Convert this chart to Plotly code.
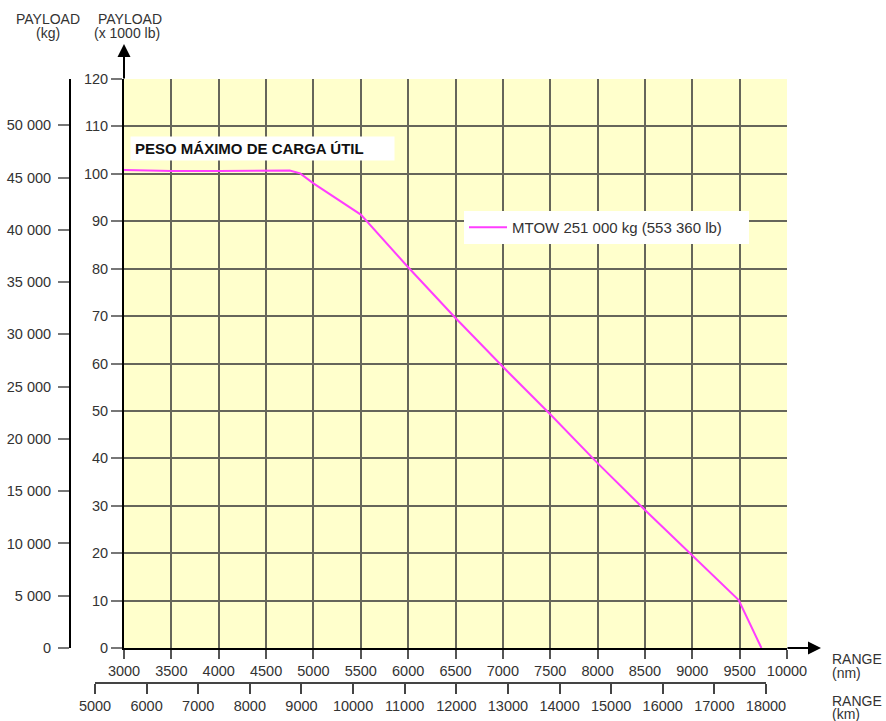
import plotly.graph_objects as go

# ---- data ----
range_nm = [3000, 3500, 4000, 4500, 4750, 4860, 5000, 5500, 6000, 6500, 7000, 7500, 8000, 8500, 9000, 9490, 9730]
payload_klb = [100.8, 100.6, 100.6, 100.7, 100.7, 100.1, 98.0, 91.4, 80.3, 69.6, 59.3, 49.3, 39.0, 29.1, 19.5, 10.1, 0.0]
series_name = "MTOW 251 000 kg (553 360 lb)"

nm_ticks = list(range(3000, 10001, 500))
nm_labels = [str(v) for v in nm_ticks]
km_ticks = list(range(5000, 18001, 1000))
km_labels = [str(v) for v in km_ticks]
klb_ticks = list(range(0, 121, 10))
klb_labels = [str(v) for v in klb_ticks]
kg_ticks = list(range(0, 50001, 5000))
kg_labels = ["0" if v == 0 else f"{v // 1000} 000" for v in kg_ticks]

# ---- geometry (page pixels; body margin is removed so the figure sits at 0,0) ----
W, H = 886, 721
L, R, T, B = 70, 787, 79, 683          # paper edges in page pixels


def px(x):
    return (x - L) / (R - L)


def py(y):
    return (B - y) / (B - T)


FONT = "Liberation Sans, Arial, Helvetica, sans-serif"
TXT = "#333333"
GRID = "#66665a"

fig = go.Figure()
fig.add_trace(go.Scatter(x=range_nm, y=payload_klb, mode="lines", name=series_name,
                         line=dict(color="#FF3DFF", width=2), xaxis="x", yaxis="y"))
# helper traces so that the secondary (km / kg) axes get drawn
fig.add_trace(go.Scatter(x=km_ticks, y=[None] * len(km_ticks), xaxis="x2", yaxis="y3",
                         showlegend=False, hoverinfo="skip", mode="markers"))
fig.add_trace(go.Scatter(x=[None] * len(kg_ticks), y=kg_ticks, xaxis="x3", yaxis="y2",
                         showlegend=False, hoverinfo="skip", mode="markers"))

yd0 = py(648)
fig.update_layout(
    width=W, height=H,
    margin=dict(l=L, r=W - R, t=T, b=H - B, pad=0, autoexpand=False),
    paper_bgcolor="white", plot_bgcolor="rgba(0,0,0,0)",
    font=dict(family=FONT, size=14.5, color=TXT),
    showlegend=True,
    legend=dict(x=px(464), y=py(211), xanchor="left", yanchor="top", orientation="h",
                entrywidth=232, itemwidth=38,
                bgcolor="white", borderwidth=0, font=dict(size=15, color=TXT)),
    xaxis=dict(domain=[px(124), 1], range=[3000, 10000], tickvals=nm_ticks, ticktext=nm_labels,
               showgrid=True, gridcolor=GRID, gridwidth=1.6, zeroline=False,
               showline=True, linecolor="black", linewidth=2,
               ticks="outside", ticklen=9, tickwidth=1.5, tickcolor="#555",
               anchor="y", fixedrange=True, automargin=False),
    yaxis=dict(domain=[yd0, 1], range=[0, 120], tickvals=klb_ticks, ticktext=klb_labels,
               showgrid=True, gridcolor=GRID, gridwidth=1.6, zeroline=False,
               showline=True, linecolor="black", linewidth=2,
               ticks="outside", ticklen=11, tickwidth=1.5, tickcolor="#777",
               anchor="x", fixedrange=True, automargin=False),
    xaxis2=dict(domain=[px(95), px(766)], range=[5000, 18000], tickvals=km_ticks, ticktext=km_labels,
                anchor="free", position=0, side="bottom", showgrid=False, zeroline=False,
                showline=True, linecolor="#444", linewidth=1.5,
                ticks="outside", ticklen=10, tickwidth=1.5, tickcolor="#444",
                fixedrange=True, automargin=False),
    yaxis3=dict(domain=[0, 0.001], visible=False, anchor="free", position=0,
                fixedrange=True, automargin=False),
    yaxis2=dict(domain=[yd0, 1], range=[0, 120000 / 2.20462], tickvals=kg_ticks, ticktext=kg_labels,
                anchor="free", position=0, side="left", showgrid=False, zeroline=False,
                showline=True, linecolor="black", linewidth=2, ticklabelstandoff=4,
                ticks="outside", ticklen=11, tickwidth=1.5, tickcolor="#777",
                fixedrange=True, automargin=False),
    xaxis3=dict(domain=[0, 0.001], visible=False, anchor="free", position=0,
                fixedrange=True, automargin=False),
)

# yellow plotting area
fig.add_shape(type="rect", xref="x domain", yref="y domain", x0=0, x1=1, y0=0, y1=1,
              fillcolor="#FFFFCC", line=dict(width=0), layer="below")

ann = []
# axis arrows
ann.append(dict(x=3000, xref="x", y=py(44), yref="paper", ax=0, ay=36, text="",
                showarrow=True, arrowhead=2, arrowsize=1.3, arrowwidth=2, arrowcolor="black"))
ann.append(dict(x=px(821), xref="paper", y=0, yref="y", ax=-35, ay=0, text="",
                showarrow=True, arrowhead=2, arrowsize=1.3, arrowwidth=2, arrowcolor="black"))


def label(text, x, y, anchor="center", size=14):
    ann.append(dict(x=px(x), y=py(y), xref="paper", yref="paper", text=text, showarrow=False,
                    xanchor=anchor, yanchor="middle", font=dict(size=size, color=TXT)))


label("PAYLOAD", 47.5, 19.5)
label("(kg)", 47.5, 33.5)
label("PAYLOAD", 129.5, 19.5)
label("(x 1000 lb)", 126.5, 33.5)
label("RANGE", 830, 659, "left")
label("(nm)", 830, 673, "left")
label("RANGE", 830, 701, "left")
label("(km)", 830, 714, "left")
# boxed note
ann.append(dict(x=px(130), y=py(148.5), xref="paper", yref="paper", xanchor="left", yanchor="middle",
                text="<b>PESO MÁXIMO DE CARGA ÚTIL</b>", showarrow=False, align="left",
                width=255, height=15, borderpad=4, bgcolor="white",
                font=dict(size=15, color="#111")))
fig.update_layout(annotations=ann)

fig.write_html("out.html", config={"displayModeBar": False},
               post_script="document.body.style.margin='0';document.body.style.overflow='hidden';")
